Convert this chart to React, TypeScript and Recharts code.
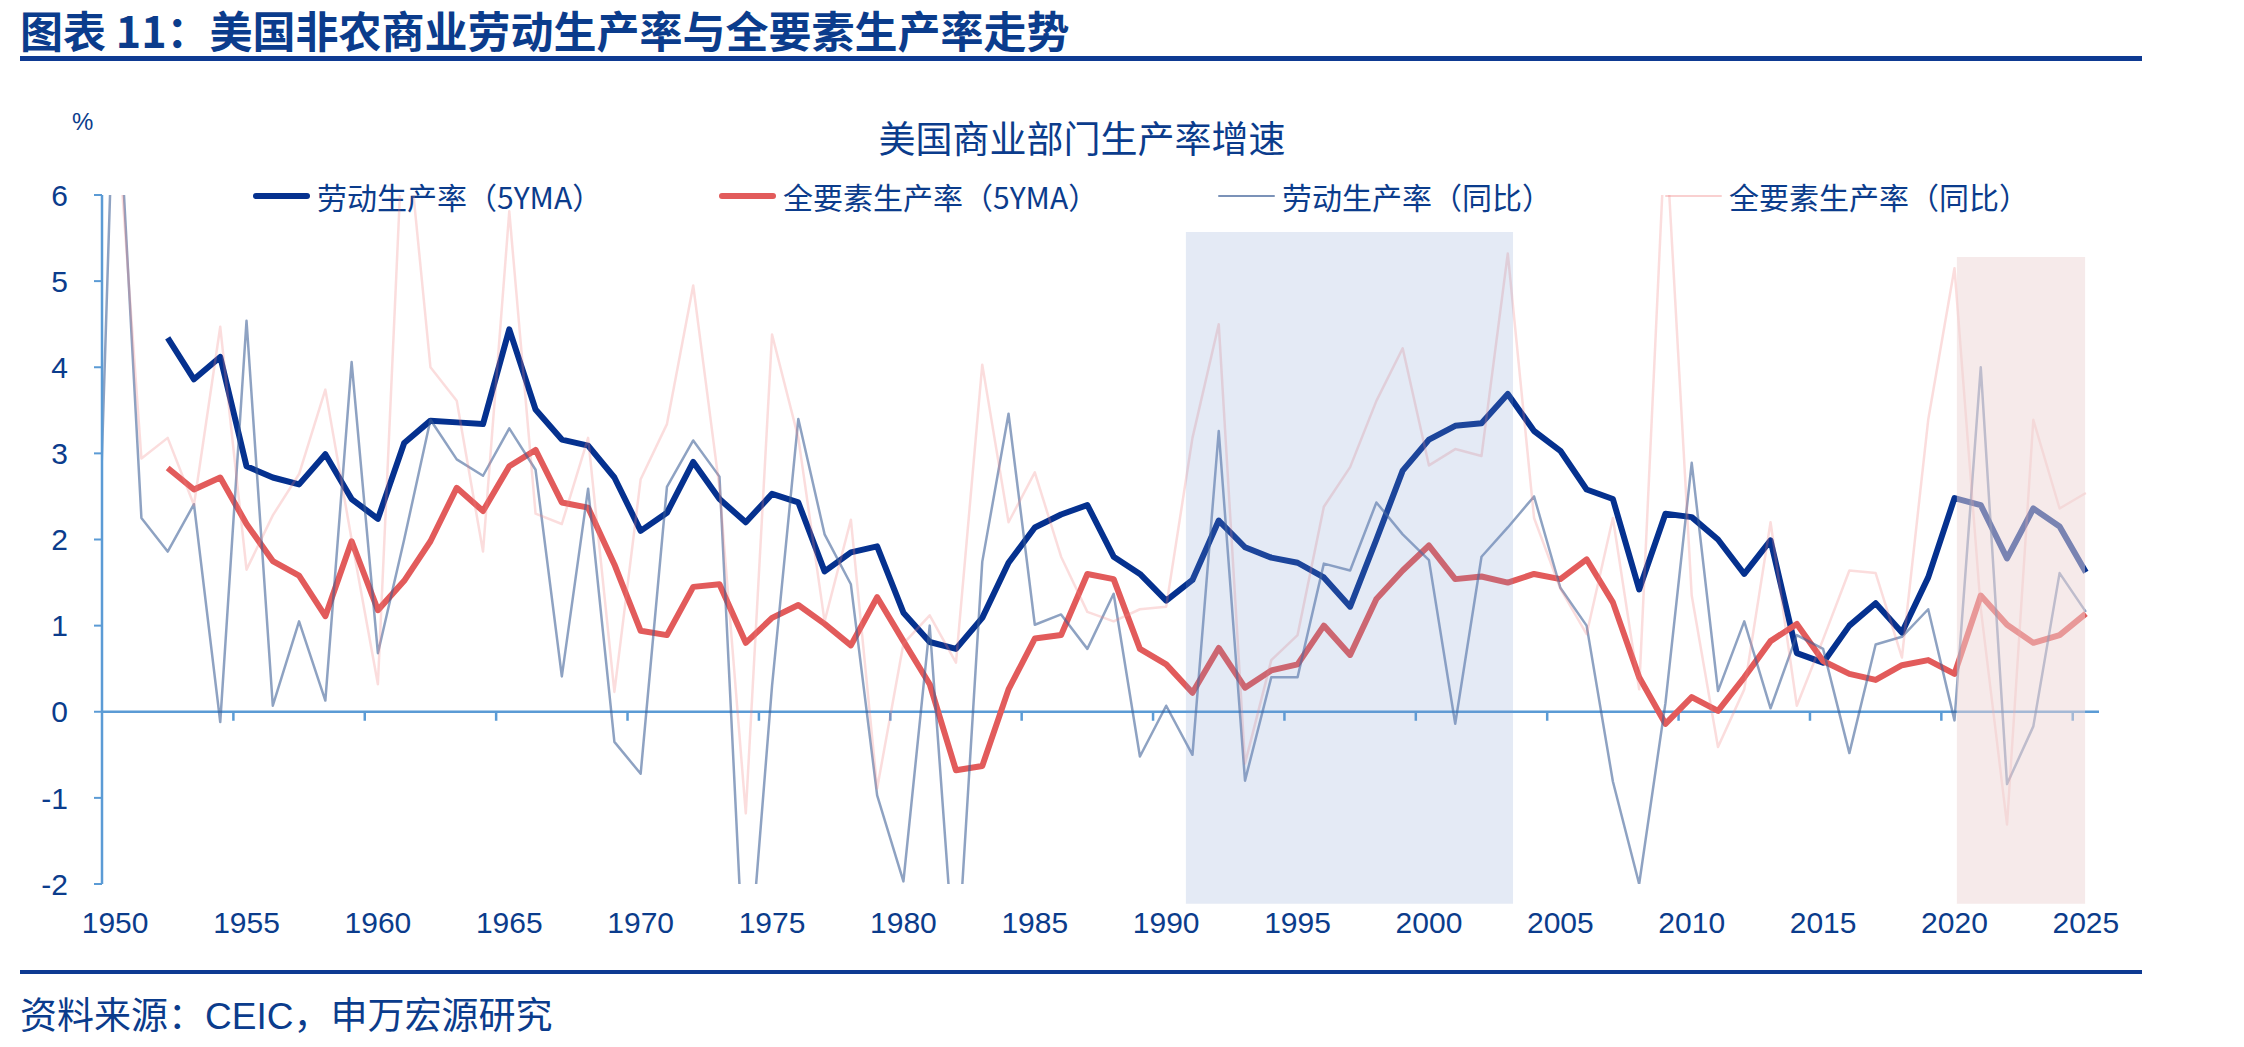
import React from "react";
import {
  LineChart,
  Line,
  XAxis,
  YAxis,
  ReferenceArea,
  ReferenceLine,
} from "recharts";

// years (1949 only feeds the clipped segment at the left edge)
const years = [
  1949, 1950, 1951, 1952, 1953, 1954, 1955, 1956, 1957, 1958, 1959,
  1960, 1961, 1962, 1963, 1964, 1965, 1966, 1967, 1968, 1969,
  1970, 1971, 1972, 1973, 1974, 1975, 1976, 1977, 1978, 1979,
  1980, 1981, 1982, 1983, 1984, 1985, 1986, 1987, 1988, 1989,
  1990, 1991, 1992, 1993, 1994, 1995, 1996, 1997, 1998, 1999,
  2000, 2001, 2002, 2003, 2004, 2005, 2006, 2007, 2008, 2009,
  2010, 2011, 2012, 2013, 2014, 2015, 2016, 2017, 2018, 2019,
  2020, 2021, 2022, 2023, 2024, 2025,
];

// 劳动生产率（5YMA）
const laborMA = [
  null, null, null, 4.34, 3.86, 4.12, 2.85, 2.72, 2.64, 2.99, 2.47,
  2.24, 3.12, 3.38, 3.36, 3.34, 4.44, 3.51, 3.16, 3.09, 2.72,
  2.1, 2.31, 2.9, 2.47, 2.2, 2.53, 2.43, 1.63, 1.85, 1.92,
  1.15, 0.81, 0.73, 1.09, 1.73, 2.14, 2.29, 2.4, 1.8, 1.6,
  1.29, 1.53, 2.22, 1.91, 1.79, 1.73, 1.56, 1.22, 2.0, 2.8,
  3.16, 3.32, 3.35, 3.69, 3.26, 3.03, 2.58, 2.47, 1.42, 2.3,
  2.26, 2.0, 1.6, 1.99, 0.68, 0.57, 1.0, 1.26, 0.92, 1.56,
  2.48, 2.4, 1.78, 2.36, 2.15, 1.62,
];

// 全要素生产率（5YMA）
const tfpMA = [
  null, null, null, 2.83, 2.58, 2.72, 2.18, 1.75, 1.58, 1.11, 1.98,
  1.18, 1.52, 1.98, 2.6, 2.33, 2.85, 3.04, 2.43, 2.37, 1.71,
  0.94, 0.89, 1.45, 1.48, 0.8, 1.09, 1.24, 1.02, 0.77, 1.33,
  0.82, 0.32, -0.68, -0.63, 0.26, 0.85, 0.89, 1.6, 1.54, 0.73,
  0.55, 0.22, 0.74, 0.28, 0.48, 0.55, 1.0, 0.66, 1.31, 1.64,
  1.93, 1.54, 1.57, 1.5, 1.6, 1.54, 1.77, 1.27, 0.4, -0.14,
  0.17, 0.01, 0.4, 0.82, 1.02, 0.59, 0.44, 0.37, 0.54, 0.6,
  0.44, 1.35, 1.01, 0.8, 0.89, 1.14,
];

// 劳动生产率（同比）
const laborYoY = [
  -1.9, 7.9, 2.25, 1.86, 2.41, -0.12, 4.54, 0.07, 1.05, 0.13, 4.06,
  0.68, 2.0, 3.39, 2.93, 2.74, 3.29, 2.81, 0.41, 2.59, -0.35,
  -0.72, 2.61, 3.15, 2.73, -3.5, 0.3, 3.4, 2.06, 1.48, -0.97,
  -1.97, 1.0, -3.2, 1.74, 3.46, 1.01, 1.13, 0.73, 1.37, -0.52,
  0.07, -0.5, 3.26, -0.8, 0.4, 0.4, 1.72, 1.64, 2.43, 2.06,
  1.76, -0.14, 1.8, 2.14, 2.5, 1.44, 1.0, -0.81, -2.0, 0.1,
  2.89, 0.24, 1.05, 0.04, 0.89, 0.73, -0.48, 0.78, 0.87, 1.19,
  -0.1, 4.0, -0.84, -0.17, 1.61, 1.16,
];

// 全要素生产率（同比）
const tfpYoY = [
  null, 7.2, 2.94, 3.18, 2.4, 4.47, 1.65, 2.28, 2.76, 3.74, 2.0,
  0.32, 7.1, 4.0, 3.61, 1.86, 5.81, 2.3, 2.18, 3.18, 0.23,
  2.7, 3.34, 4.95, 2.6, -1.18, 4.38, 3.18, 1.05, 2.23, -0.89,
  0.79, 1.12, 0.57, 4.03, 2.2, 2.78, 1.8, 1.16, 1.05, 1.19,
  1.22, 3.18, 4.5, -0.6, 0.6, 0.89, 2.38, 2.84, 3.61, 4.22,
  2.86, 3.05, 2.97, 5.32, 2.25, 1.43, 0.9, 2.25, 0.26, 6.8,
  1.35, -0.41, 0.26, 2.2, 0.07, 0.84, 1.64, 1.61, 0.63, 3.39,
  5.15, 1.2, -1.31, 3.39, 2.36, 2.54,
];

const xTicks = [
  1950, 1955, 1960, 1965, 1970, 1975, 1980, 1985, 1990, 1995, 2000, 2005,
  2010, 2015, 2020, 2025,
];
const yTicks = [-2, -1, 0, 1, 2, 3, 4, 5, 6];

// shaded periods
const blueBand = { x1: 1990.75, x2: 2003.2, y1: -2.23, y2: 5.57 };
const pinkBand = { x1: 2020.09, x2: 2024.97, y1: -2.23, y2: 5.28 };

const data = years.map((year, i) => ({
  year,
  laborMA: laborMA[i],
  tfpMA: tfpMA[i],
  laborYoY: laborYoY[i],
  tfpYoY: tfpYoY[i],
}));

const series = [
  { key: "laborMA", name: "劳动生产率（5YMA）", color: "#05318f", width: 6, opacity: 1, left: 253 },
  { key: "tfpMA", name: "全要素生产率（5YMA）", color: "#e25b5b", width: 6, opacity: 1, left: 719 },
  { key: "laborYoY", name: "劳动生产率（同比）", color: "#3d5f96", width: 2.5, opacity: 0.58, left: 1218 },
  { key: "tfpYoY", name: "全要素生产率（同比）", color: "#f08080", width: 2.5, opacity: 0.27, left: 1665 },
];

const TEXT = "#0b3c8c";
const AXIS = "#5b9bd5";
const FONT = '"Liberation Sans", Arial, "Noto Sans CJK SC", sans-serif';
const X_DOMAIN = [1949.5, 2025.5];

const XTick = ({ x, y, payload }: any) => (
  <text
    x={x}
    y={y + 30}
    textAnchor="middle"
    dominantBaseline="central"
    fill={TEXT}
    fontSize={30}
    fontFamily={FONT}
  >
    {payload.value}
  </text>
);

// zero line with the year tick marks hanging below it, between categories
const ZeroAxis = (props: any) => {
  const { x1, y1, x2 } = props;
  const span = X_DOMAIN[1] - X_DOMAIN[0];
  const marks = xTicks.slice(1).map((t) => x1 + ((t - 0.5 - X_DOMAIN[0]) / span) * (x2 - x1));
  return (
    <g>
      <line x1={x1} y1={y1} x2={x2} y2={y1} stroke={AXIS} strokeWidth={2.5} />
      {marks.map((mx) => (
        <line key={mx} x1={mx} y1={y1} x2={mx} y2={y1 + 9} stroke={AXIS} strokeWidth={2.5} />
      ))}
    </g>
  );
};

export default function App() {
  return (
    <div
      style={{
        position: "absolute",
        left: 0,
        top: 0,
        width: 2244,
        height: 1047,
        background: "#fff",
        fontFamily: FONT,
        color: TEXT,
        overflow: "hidden",
      }}
    >
      <div
        style={{
          position: "absolute",
          left: 20,
          top: 0,
          fontSize: 43,
          fontWeight: 700,
          lineHeight: "58px",
          fontFamily: '"Noto Sans CJK SC", sans-serif',
          whiteSpace: "nowrap",
        }}
      >
        图表 11：美国非农商业劳动生产率与全要素生产率走势
      </div>
      <div style={{ position: "absolute", left: 20, top: 56, width: 2122, height: 5, background: "#0e3a92" }} />

      <div
        style={{
          position: "absolute",
          left: 0,
          width: 2164,
          top: 115,
          textAlign: "center",
          fontSize: 37,
          lineHeight: "44px",
          fontFamily: '"Noto Sans CJK SC", sans-serif',
        }}
      >
        美国商业部门生产率增速
      </div>
      <div style={{ position: "absolute", left: 72, top: 108, fontSize: 24, lineHeight: "28px" }}>%</div>

      {series.map((s) => (
        <div
          key={s.key}
          style={{
            position: "absolute",
            left: s.left,
            top: 176,
            height: 40,
            display: "flex",
            alignItems: "center",
            whiteSpace: "nowrap",
          }}
        >
          <div
            style={{
              width: 57,
              height: s.width > 3 ? 6 : 2.5,
              background: s.color,
              opacity: s.opacity < 1 ? Math.min(1, s.opacity + 0.1) : 1,
              borderRadius: 3,
              marginRight: 7,
            }}
          />
          <span style={{ fontSize: 30, fontFamily: '"Noto Sans CJK SC", sans-serif' }}>{s.name}</span>
        </div>
      ))}

      <div style={{ position: "absolute", left: 0, top: 0 }}>
        <LineChart
          width={2244}
          height={1047}
          data={data}
          margin={{ top: 195, right: 145, bottom: 113, left: 42 }}
        >
          <XAxis
            dataKey="year"
            type="number"
            domain={X_DOMAIN}
            allowDataOverflow
            ticks={xTicks}
            interval={0}
            axisLine={false}
            tickLine={false}
            height={50}
            tick={<XTick />}
          />
          <YAxis
            type="number"
            domain={[-2, 6]}
            allowDataOverflow
            ticks={yTicks}
            interval={0}
            width={60}
            axisLine={{ stroke: AXIS, strokeWidth: 2.5 }}
            tickLine={{ stroke: AXIS, strokeWidth: 2 }}
            tickSize={8}
            tickMargin={26}
            tick={{ fill: TEXT, fontSize: 30, fontFamily: FONT }}
          />
          <ReferenceLine y={0} shape={ZeroAxis} ifOverflow="visible" />
          {series.map((s) => (
            <Line
              key={s.key}
              type="linear"
              dataKey={s.key}
              stroke={s.color}
              strokeWidth={s.width}
              strokeOpacity={s.opacity}
              strokeLinejoin="round"
              dot={false}
              activeDot={false}
              connectNulls={false}
              isAnimationActive={false}
            />
          ))}
          <ReferenceArea
            x1={blueBand.x1}
            x2={blueBand.x2}
            y1={blueBand.y1}
            y2={blueBand.y2}
            fill="#7896cd"
            fillOpacity={0.2}
            stroke="none"
            ifOverflow="visible"
            zIndex={1000}
          />
          <ReferenceArea
            x1={pinkBand.x1}
            x2={pinkBand.x2}
            y1={pinkBand.y1}
            y2={pinkBand.y2}
            fill="#edd5d5"
            fillOpacity={0.5}
            stroke="none"
            ifOverflow="visible"
            zIndex={1000}
          />
        </LineChart>
      </div>

      <div style={{ position: "absolute", left: 20, top: 970, width: 2122, height: 4, background: "#0e3a92" }} />
      <div
        style={{
          position: "absolute",
          left: 20,
          top: 995,
          fontSize: 37,
          lineHeight: "44px",
          whiteSpace: "nowrap",
        }}
      >
        资料来源：CEIC，申万宏源研究
      </div>
    </div>
  );
}
